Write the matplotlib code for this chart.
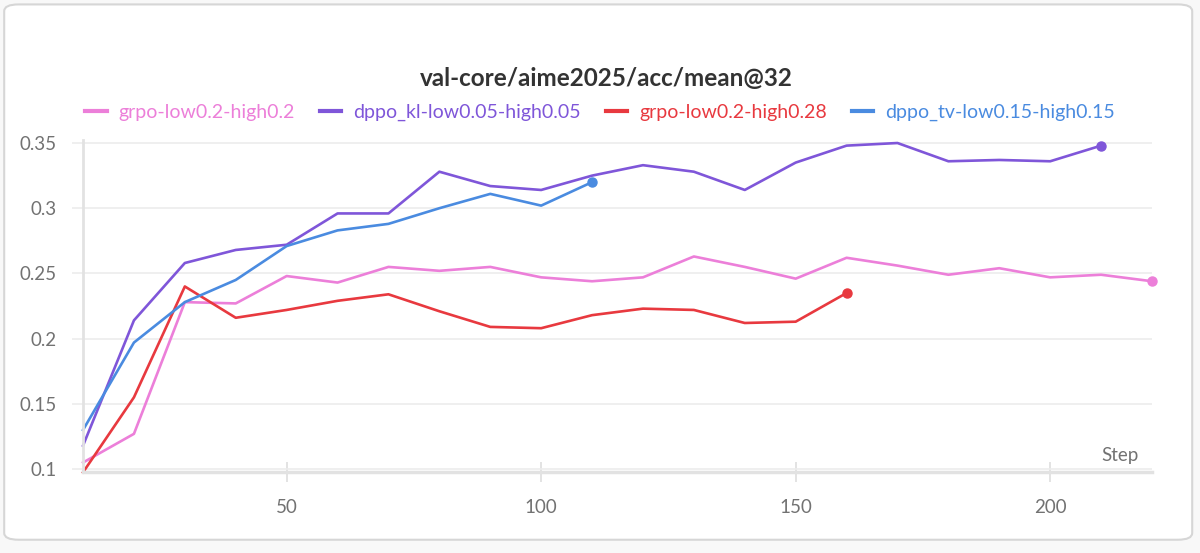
import matplotlib
matplotlib.use("Agg")
import matplotlib.pyplot as plt
from matplotlib.patches import FancyBboxPatch

plt.rcParams['font.family'] = ['Lato', 'DejaVu Sans']

# -----------------------------
# Данные
# -----------------------------
title = "val-core/aime2025/acc/mean@32"
names = ["grpo-low0.2-high0.2", "dppo_kl-low0.05-high0.05",
         "grpo-low0.2-high0.28", "dppo_tv-low0.15-high0.15"]
colors = ["#ec7fd9", "#7f56d9", "#e8393f", "#4a8be0"]

steps_grpo_02 = list(range(10, 230, 10))
acc_grpo_02 = [0.105, 0.127, 0.228, 0.227, 0.248, 0.243, 0.255, 0.252, 0.255, 0.247, 0.244,
               0.247, 0.263, 0.255, 0.246, 0.262, 0.256, 0.249, 0.254, 0.247, 0.249, 0.244]

steps_dppo_kl = list(range(10, 220, 10))
acc_dppo_kl = [0.118, 0.214, 0.258, 0.268, 0.272, 0.296, 0.296, 0.328, 0.317, 0.314, 0.325,
               0.333, 0.328, 0.314, 0.335, 0.348, 0.350, 0.336, 0.337, 0.336, 0.348]

steps_grpo_028 = list(range(10, 170, 10))
acc_grpo_028 = [0.0975, 0.155, 0.240, 0.216, 0.222, 0.229, 0.234, 0.221, 0.209, 0.208, 0.218,
                0.223, 0.222, 0.212, 0.213, 0.235]

steps_dppo_tv = list(range(10, 120, 10))
acc_dppo_tv = [0.130, 0.197, 0.228, 0.245, 0.271, 0.283, 0.288, 0.300, 0.311, 0.302, 0.320]

yticks = [0.1, 0.15, 0.2, 0.25, 0.3, 0.35]
ytick_labels = ["0.1", "0.15", "0.2", "0.25", "0.3", "0.35"]
xticks = [50, 100, 150, 200]

series = [(steps_grpo_02, acc_grpo_02), (steps_dppo_kl, acc_dppo_kl),
          (steps_grpo_028, acc_grpo_028), (steps_dppo_tv, acc_dppo_tv)]

# -----------------------------
# Фигура и "карточка"
# -----------------------------
fig = plt.figure(figsize=(12, 5.53), dpi=100)
fig.patch.set_facecolor("#f8f8f8")
card = FancyBboxPatch((0.0035, 0.024), 0.99, 0.968,
                      boxstyle="round,pad=0,rounding_size=0.012",
                      transform=fig.transFigure, facecolor="white",
                      edgecolor="#d6d6d6", linewidth=1.5, zorder=-10)
fig.patches.append(card)

ax = fig.add_axes([0.0692, 0.1459, 0.8908, 0.6002])
ax.set_facecolor("none")
ax.set_zorder(1)

for (x, y), c, name in zip(series, colors, names):
    ax.plot(x, y, color=c, lw=1.9, label=name, solid_joinstyle="round", clip_on=False)
    ax.plot(x[-1], y[-1], "o", color=c, ms=6.5, clip_on=False)

ax.set_xlim(10, 220)
ax.set_ylim(0.0975, 0.352)

ax.set_yticks(yticks)
ax.set_yticklabels(ytick_labels)
ax.set_xticks(xticks)
ax.grid(axis="y", color="#ececec", lw=1.2)
ax.tick_params(axis="y", length=8, width=1.2, color="#ececec", pad=11,
               labelsize=13.5, labelcolor="#727272")
ax.tick_params(axis="x", direction="inout", length=15, width=1.2, color="#dedede",
               pad=12, labelsize=13.5, labelcolor="#727272")

for side in ["top", "right"]:
    ax.spines[side].set_visible(False)
ax.spines["left"].set_color("#e2e2e2")
ax.spines["left"].set_linewidth(2)
ax.spines["bottom"].set_color("#e2e2e2")
ax.spines["bottom"].set_linewidth(2.5)

ax.text(0.987, 0.025, "Step", transform=ax.transAxes, ha="right", va="bottom",
        fontsize=13.5, color="#727272")

fig.text(0.505, 0.858, title, ha="center", va="center", fontsize=17.5,
         fontweight="bold", color="#333333")

leg = fig.legend(loc="center", bbox_to_anchor=(0.5, 0.796), ncol=4, frameon=False,
                 fontsize=14, handlelength=1.1, handletextpad=0.6, columnspacing=1.3)
for text, c in zip(leg.get_texts(), colors):
    text.set_color(c)
for line in leg.get_lines():
    line.set_linewidth(3)

fig.savefig("out.png", dpi=100, facecolor=fig.get_facecolor())
